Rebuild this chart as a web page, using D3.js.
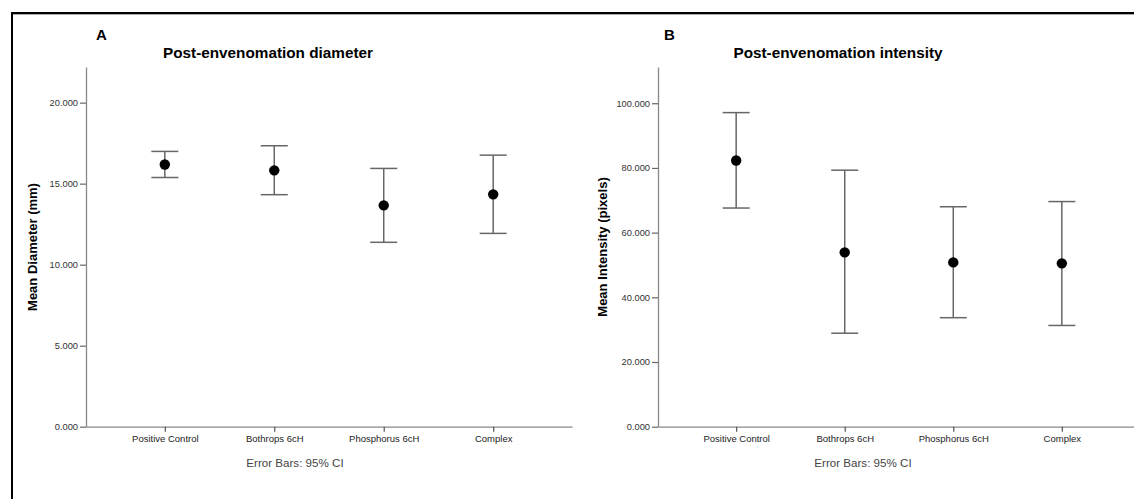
<!DOCTYPE html>
<html>
<head>
<meta charset="utf-8">
<script src="https://cdn.jsdelivr.net/npm/d3@7"></script>
<style>
  html, body { margin: 0; padding: 0; background: #fff; }
  svg { display: block; font-family: "Liberation Sans", Arial, sans-serif; }
</style>
</head>
<body>
<svg id="chart" width="1134" height="499"></svg>
<script>
const categories = ["Positive Control", "Bothrops 6cH", "Phosphorus 6cH", "Complex"];

// Panel A: Post-envenomation diameter (mm)
const diameterMean  = [16.18, 15.82, 13.66, 14.34];
const diameterLower = [15.38, 14.32, 11.38, 11.93];
const diameterUpper = [16.99, 17.34, 15.94, 16.76];
const diameterTicks = [0, 5, 10, 15, 20];

// Panel B: Post-envenomation intensity (pixels)
const intensityMean  = [82.3, 53.9, 50.8, 50.5];
const intensityLower = [67.6, 28.9, 33.7, 31.3];
const intensityUpper = [97.1, 79.3, 68.0, 69.6];
const intensityTicks = [0, 20, 40, 60, 80, 100];

const svg = d3.select("#chart");

// outer frame (top and left lines)
svg.append("line").attr("x1", 12).attr("x2", 1134).attr("y1", 14.5).attr("y2", 14.5)
  .attr("stroke", "#aaa").attr("stroke-width", 1);
svg.append("line").attr("x1", 12).attr("x2", 1134).attr("y1", 13).attr("y2", 13)
  .attr("stroke", "#000").attr("stroke-width", 2);
svg.append("line").attr("x1", 12).attr("x2", 12).attr("y1", 12).attr("y2", 499)
  .attr("stroke", "#000").attr("stroke-width", 2);

function panel(cfg) {
  const g = svg.append("g");
  const x = d3.scalePoint().domain(categories).range([cfg.x0, cfg.x1]).padding(0.72);
  const y = d3.scaleLinear().domain([0, cfg.yMax]).range([426.7, 67]);

  // y axis
  const ya = g.append("g").attr("transform", `translate(${cfg.x0},0)`)
    .call(d3.axisLeft(y).tickValues(cfg.ticks).tickFormat(d3.format(".3f")).tickSize(6).tickPadding(2).tickSizeOuter(0));
  ya.select(".domain").attr("stroke", "#888").attr("stroke-width", 1.3);
  ya.selectAll(".tick line").attr("stroke", "#666").attr("stroke-width", 1.2);
  ya.selectAll(".tick text").attr("fill", "#333").style("font-size", "9.3px");

  // x axis
  const xa = g.append("g").attr("transform", `translate(0,${y(0)})`)
    .call(d3.axisBottom(x).tickSize(5).tickPadding(4).tickSizeOuter(0));
  xa.select(".domain").attr("stroke", "#888").attr("stroke-width", 1.3);
  xa.selectAll(".tick line").attr("stroke", "#555").attr("stroke-width", 1.2);
  xa.selectAll(".tick text").attr("fill", "#222").style("font-size", "9.5px");

  // error bars
  const capW = 13.5;
  const data = categories.map((c, i) => ({ c, m: cfg.mean[i], lo: cfg.lower[i], hi: cfg.upper[i] }));
  const eb = g.append("g").attr("stroke", "#666").attr("stroke-width", 1.5);
  eb.selectAll(".v").data(data).join("line")
    .attr("x1", d => x(d.c)).attr("x2", d => x(d.c))
    .attr("y1", d => y(d.lo)).attr("y2", d => y(d.hi));
  eb.selectAll(".t").data(data).join("line")
    .attr("x1", d => x(d.c) - capW).attr("x2", d => x(d.c) + capW)
    .attr("y1", d => y(d.hi)).attr("y2", d => y(d.hi));
  eb.selectAll(".b").data(data).join("line")
    .attr("x1", d => x(d.c) - capW).attr("x2", d => x(d.c) + capW)
    .attr("y1", d => y(d.lo)).attr("y2", d => y(d.lo));

  g.append("g").selectAll("circle").data(data).join("circle")
    .attr("cx", d => x(d.c)).attr("cy", d => y(d.m)).attr("r", 5.2).attr("fill", "#000");

  // titles
  g.append("text").attr("x", cfg.letterX).attr("y", 40).text(cfg.letter)
    .attr("font-weight", "bold").style("font-size", "15px").attr("fill", "#000");
  g.append("text").attr("x", cfg.titleX).attr("y", 58).attr("text-anchor", "middle").text(cfg.title)
    .attr("font-weight", "bold").style("font-size", "15.3px").attr("fill", "#000");
  g.append("text").attr("transform", `translate(${cfg.ylabX},247) rotate(-90)`)
    .attr("text-anchor", "middle").text(cfg.ylab)
    .attr("font-weight", "bold").style("font-size", "13px").attr("fill", "#000");
  g.append("text").attr("x", cfg.noteX).attr("y", 467).attr("text-anchor", "middle")
    .text("Error Bars: 95% CI").style("font-size", "11.6px").attr("fill", "#444");
}

panel({
  x0: 86, x1: 572, yMax: 22.2, ticks: diameterTicks,
  mean: diameterMean, lower: diameterLower, upper: diameterUpper,
  letter: "A", letterX: 96, title: "Post-envenomation diameter", titleX: 268,
  ylab: "Mean Diameter (mm)", ylabX: 37, noteX: 295
});
panel({
  x0: 658, x1: 1140, yMax: 111.2, ticks: intensityTicks,
  mean: intensityMean, lower: intensityLower, upper: intensityUpper,
  letter: "B", letterX: 664, title: "Post-envenomation intensity", titleX: 838,
  ylab: "Mean Intensity (pixels)", ylabX: 607, noteX: 863
});
</script>
</body>
</html>
